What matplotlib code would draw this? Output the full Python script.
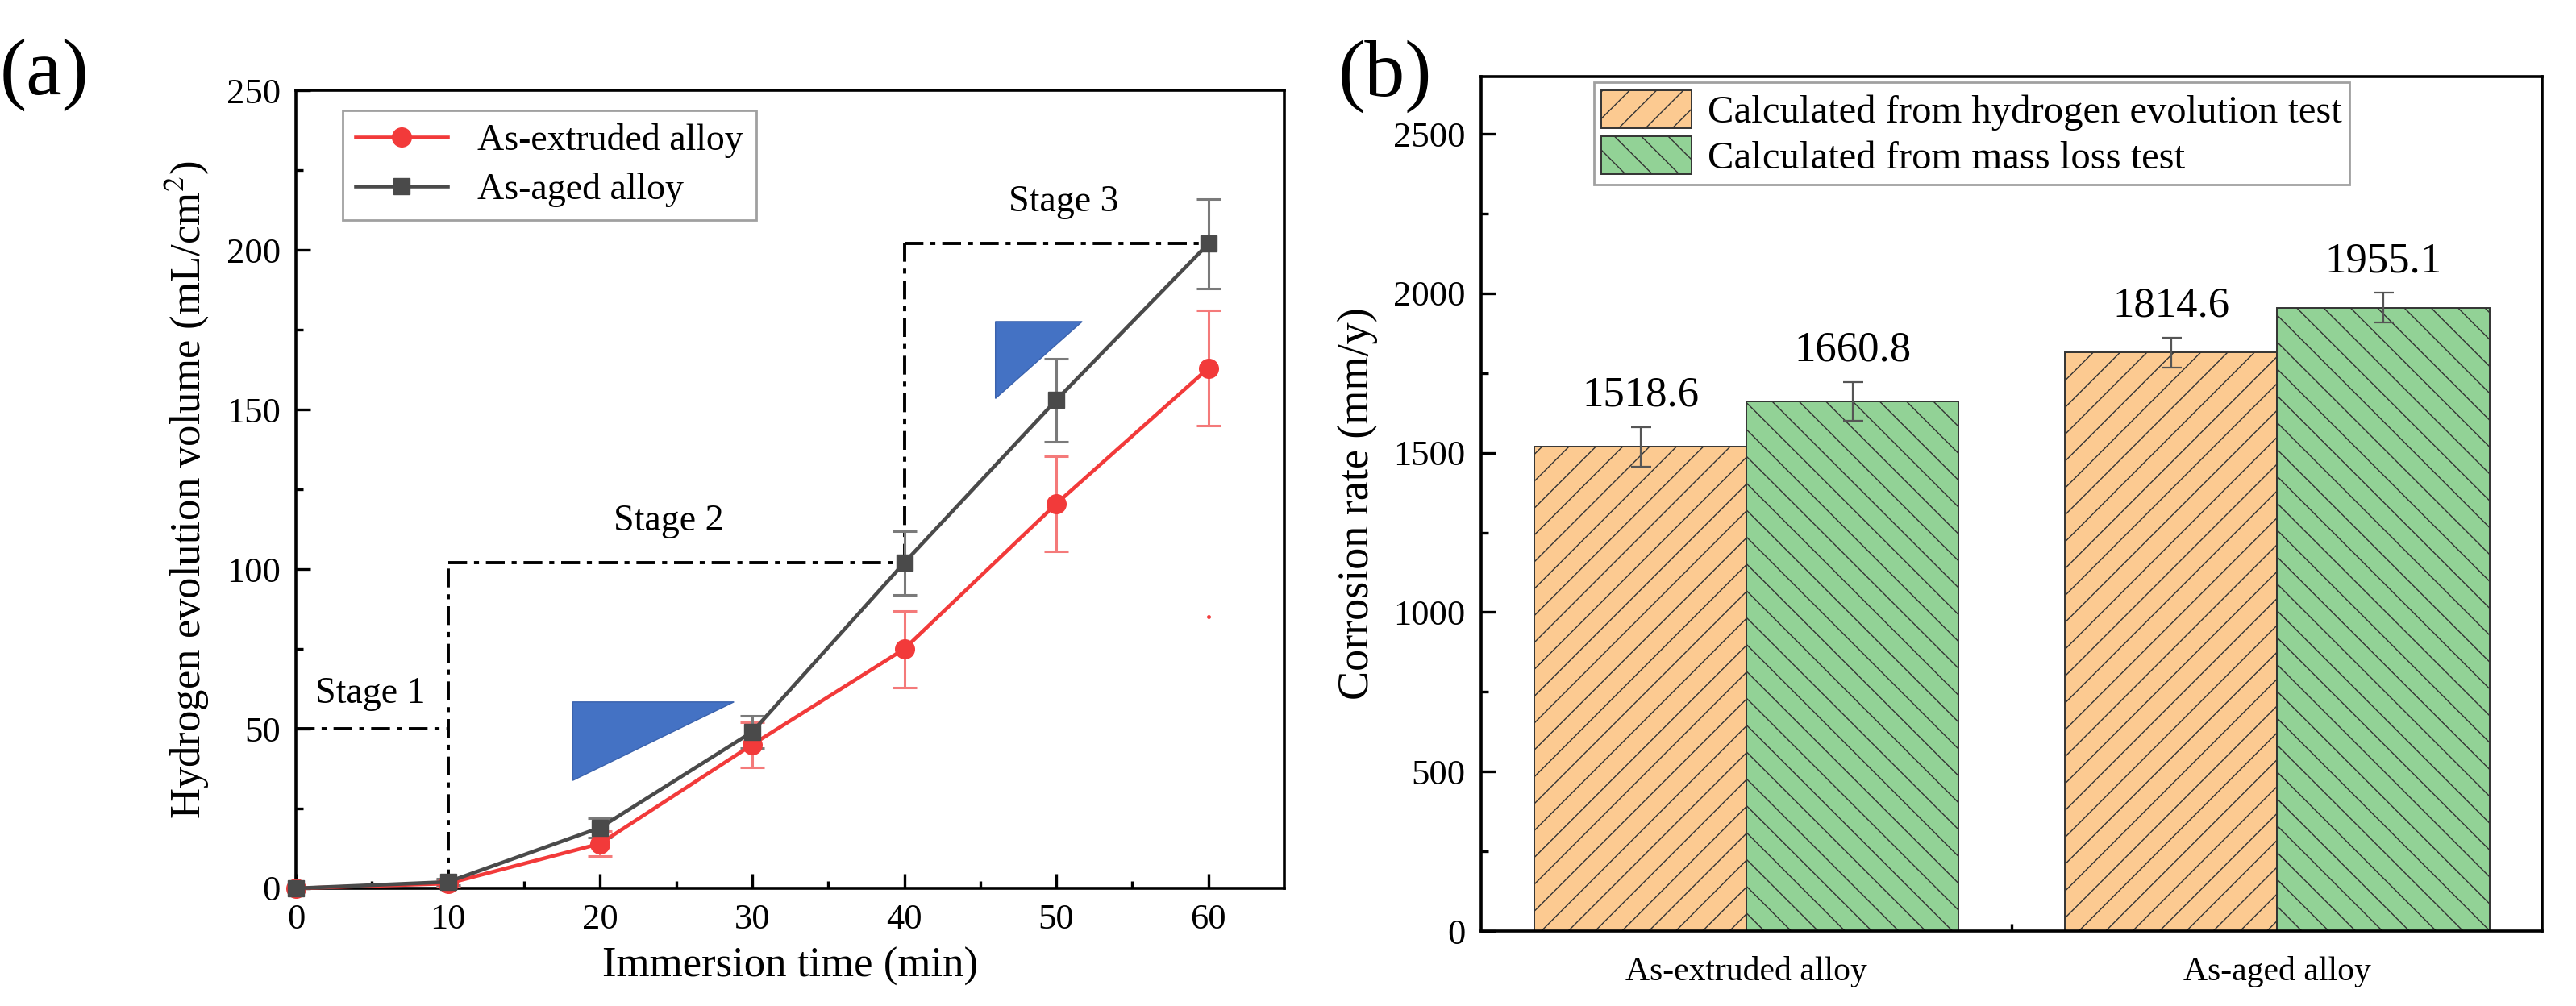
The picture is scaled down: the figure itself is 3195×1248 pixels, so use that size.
import numpy as np
import matplotlib
matplotlib.use("Agg")
from matplotlib import pyplot as plt
from matplotlib.patches import Polygon

plt.rcParams['font.family'] = ['Liberation Serif', 'DejaVu Serif']
plt.rcParams['mathtext.fontset'] = 'stix'
plt.rcParams['hatch.linewidth'] = 1.0

# panel (a) data
time_min = [0, 10, 20, 30, 40, 50, 60]
extruded_vol = [0, 1.5, 14, 45, 75, 120.5, 163]
extruded_err = [0, 1, 4, 7, 12, 15, 18]
aged_vol = [0, 2, 19, 49, 102, 153, 202]
aged_err = [0, 1, 3, 5, 10, 13, 14]

# stage guide lines (dash-dot)
stage_x = [[0, 10], [10, 10], [10, 40], [40, 40], [40, 60]]
stage_y = [[50, 50], [0, 102], [102, 102], [102, 202], [202, 202]]
stage_labels = ["Stage 1", "Stage 2", "Stage 3"]
stage_pos = [(4.9, 61), (24.5, 115), (50.5, 215)]

# slope triangles
tri1 = [(18.2, 58.4), (28.8, 58.4), (18.2, 33.8)]
tri2 = [(46.0, 177.6), (51.7, 177.6), (46.0, 153.5)]

# panel (b) data
alloys = ["As-extruded alloy", "As-aged alloy"]
rate_h2 = [1518.6, 1814.6]
rate_h2_err = [62, 47]
rate_mass = [1660.8, 1955.1]
rate_mass_err = [60, 46]

fig = plt.figure(figsize=(31.95, 12.48), dpi=100)
ax1 = fig.add_axes([0.1149, 0.117, 0.3837, 0.793])
ax2 = fig.add_axes([0.575, 0.0745, 0.412, 0.8495])

red = '#f23a3a'
grey = '#4a4a4a'

for xs, ys in zip(stage_x, stage_y):
    ax1.plot(xs, ys, color='black', lw=2.8, linestyle=(0, (6, 2.2, 1.6, 2.2)), zorder=2)

ax1.add_patch(Polygon(tri1, closed=True, facecolor='#4472c4', edgecolor='#3a62ad', lw=1, zorder=3))
ax1.add_patch(Polygon(tri2, closed=True, facecolor='#4472c4', edgecolor='#3a62ad', lw=1, zorder=3))

ax1.errorbar(time_min, extruded_vol, yerr=extruded_err, fmt='none', ecolor='#f47a7a',
             elinewidth=2.2, capsize=11, capthick=2.2, zorder=4)
ax1.errorbar(time_min, aged_vol, yerr=aged_err, fmt='none', ecolor='#7a7a7a',
             elinewidth=2.2, capsize=11, capthick=2.2, zorder=4)
ax1.plot(time_min, extruded_vol, color=red, lw=3.3, marker='o', ms=17,
         label='As-extruded alloy', zorder=5, clip_on=False)
ax1.plot(time_min, aged_vol, color=grey, lw=3.3, marker='s', ms=15,
         label='As-aged alloy', zorder=6, clip_on=False)
ax1.plot([60], [85], marker='o', ms=2.5, color=red, lw=0)

for lab, (px, py) in zip(stage_labels, stage_pos):
    ax1.text(px, py, lab, fontsize=33, ha='center', va='center')

ax1.set_xlim(0, 65)
ax1.set_ylim(0, 250)
ax1.set_xticks(np.arange(0, 61, 10))
ax1.set_xticks(np.arange(5, 61, 10), minor=True)
ax1.set_yticks(np.arange(0, 251, 50))
ax1.set_yticks(np.arange(25, 250, 50), minor=True)
ax1.set_xlabel('Immersion time (min)', fontsize=38, labelpad=10)
ax1.set_ylabel('Hydrogen evolution volume (mL/cm$^2$)', fontsize=38, labelpad=14)
leg1 = ax1.legend(loc='upper left', bbox_to_anchor=(0.047, 0.975), borderaxespad=0,
                  fontsize=33, fancybox=False, edgecolor='#888888', handlelength=2.5,
                  labelspacing=0.4, borderpad=0.35)
leg1.get_frame().set_linewidth(2)
ax1.text(-0.3, 1.02, '(a)', transform=ax1.transAxes, fontsize=72, va='center')

# panel (b)
xg = np.arange(len(alloys))
w = 0.4
ax2.bar(xg - w/2, rate_h2, w, color='#fcca91', edgecolor='#333333', lw=1.4, hatch='/',
        label='Calculated from hydrogen evolution test', zorder=2)
ax2.bar(xg + w/2, rate_mass, w, color='#92d296', edgecolor='#333333', lw=1.4, hatch='\\',
        label='Calculated from mass loss test', zorder=2)
ax2.errorbar(xg - w/2, rate_h2, yerr=rate_h2_err, fmt='none', ecolor='#555555',
             elinewidth=1.6, capsize=9, capthick=1.6, zorder=3)
ax2.errorbar(xg + w/2, rate_mass, yerr=rate_mass_err, fmt='none', ecolor='#555555',
             elinewidth=1.6, capsize=9, capthick=1.6, zorder=3)
for xs, vals, errs in [(xg - w/2, rate_h2, rate_h2_err), (xg + w/2, rate_mass, rate_mass_err)]:
    for xv, v, e in zip(xs, vals, errs):
        ax2.annotate(f'{v:.1f}', (xv, v + e), xytext=(0, 19), textcoords='offset points',
                     ha='center', va='baseline', fontsize=38)

ax2.set_xlim(-0.5, 1.5)
ax2.set_ylim(0, 2680)
ax2.set_xticks(xg)
ax2.set_xticklabels(alloys)
ax2.set_xticks([0.5], minor=True)
ax2.set_yticks(np.arange(0, 2501, 500))
ax2.set_yticks(np.arange(250, 2600, 500), minor=True)
ax2.set_ylabel('Corrosion rate (mm/y)', fontsize=39, labelpad=14)
leg2 = ax2.legend(loc='upper left', bbox_to_anchor=(0.106, 0.993), borderaxespad=0,
                  fontsize=35, fancybox=False, edgecolor='#888888', handlelength=2.3,
                  handleheight=1.1, labelspacing=0.15, borderpad=0.2, handletextpad=0.4)
leg2.get_frame().set_linewidth(2)
ax2.text(-0.135, 1.0, '(b)', transform=ax2.transAxes, fontsize=72, va='center')

for ax in (ax1, ax2):
    for s in ax.spines.values():
        s.set_linewidth(2.6)
    ax.tick_params(which='both', direction='in', top=False, right=False, width=2.4)
    ax.tick_params(which='major', length=13, labelsize=32, pad=14)
    ax.tick_params(which='minor', length=6.5)
ax2.tick_params(axis='x', which='major', length=0, labelsize=30, pad=22)

fig.savefig('out.png', dpi=100)
